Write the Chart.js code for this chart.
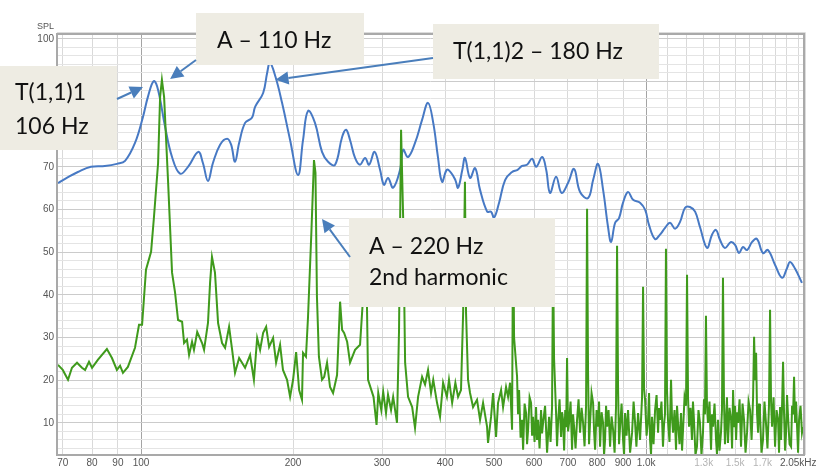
<!DOCTYPE html>
<html>
<head>
<meta charset="utf-8">
<title>SPL spectrum</title>
<script src="https://cdn.jsdelivr.net/npm/chart.js@4.4.1/dist/chart.umd.min.js"></script>
<style>
  html, body { margin: 0; padding: 0; background: #fff; }
  #wrap { width: 816px; height: 466px; }
</style>
</head>
<body>
<div id="wrap"><canvas id="splChart" width="816" height="466"></canvas></div>
<script>
// Body response (blue), Hz / dB
const responseFreq = [68.5, 71.7, 75.0, 79.6, 84.8, 89.6, 93.0, 97.3, 100.9, 103.2,
  106.0, 108.1, 111.6, 115.2, 119.5, 123.9, 129.8, 132.6, 135.7, 138.8,
  143.4, 148.1, 150.8, 153.5, 156.4, 160.7, 165.8, 168.3, 174.5, 177.7,
  180.0, 184.6, 190.2, 197.3, 204.6, 209.3, 214.1, 221.0, 228.2, 234.6,
  242.2, 250.1, 254.7, 259.3, 265.3, 271.4, 277.7, 282.8, 290.0, 297.3,
  302.7, 308.3, 315.6, 325.7, 330.3, 337.8, 348.7, 360.1, 370.0, 378.9,
  387.1, 394.4, 403.2, 411.1, 419.1, 424.3, 432.6, 437.9, 448.1, 458.6,
  469.0, 484.4, 493.1, 499.9, 511.5, 525.7, 542.7, 556.5, 568.0, 581.0,
  594.6, 605.6, 622.6, 634.0, 645.3, 663.3, 680.0, 700.3, 720.0, 739.9,
  767.5, 785.2, 803.2, 821.8, 840.5, 852.3, 868.1, 883.8, 900.0, 920.7,
  942.3, 972.6, 995.6, 1013, 1041, 1065, 1090, 1115, 1141, 1167,
  1194, 1221, 1250, 1278, 1320, 1350, 1375, 1400, 1432, 1472,
  1500, 1527, 1555, 1584, 1621, 1657, 1703, 1742, 1800, 1858,
  1901, 1927, 1972, 2034];
const responseSpl = [66.2, 67.6, 68.8, 70.0, 70.2, 70.7, 71.4, 75.6, 81.7, 86.4,
  90.1, 88.0, 79.4, 72.3, 68.4, 70.0, 73.5, 70.9, 66.7, 70.9,
  75.2, 76.6, 75.2, 71.2, 75.6, 80.3, 81.5, 84.1, 87.3, 92.0,
  94.4, 91.1, 85.0, 76.3, 68.1, 76.3, 83.1, 80.3, 73.5, 71.2,
  70.5, 77.0, 78.7, 76.3, 72.1, 70.5, 72.1, 70.5, 73.5, 69.3,
  65.8, 67.4, 65.1, 69.3, 74.0, 72.3, 75.6, 81.0, 85.0, 80.3,
  72.3, 66.5, 69.3, 68.6, 66.9, 65.1, 69.3, 72.1, 67.4, 69.7,
  64.6, 59.5, 59.5, 58.1, 61.6, 66.9, 68.8, 69.3, 70.2, 70.5,
  71.9, 70.0, 72.3, 69.3, 63.9, 67.7, 63.9, 66.2, 69.5, 64.1,
  62.7, 66.9, 70.7, 64.6, 55.9, 52.4, 56.9, 58.0, 61.6, 64.1,
  62.3, 61.6, 59.9, 56.4, 53.1, 54.1, 55.7, 56.9, 55.5, 57.1,
  60.4, 60.6, 59.5, 55.9, 51.0, 54.1, 55.2, 52.9, 51.0, 52.4,
  51.7, 49.8, 51.2, 50.5, 52.4, 53.1, 49.8, 50.5, 47.0, 44.0,
  46.3, 47.7, 46.1, 42.8];

// Plucked A string (green), Hz / dB
const noteFreq = [68.5, 70.0, 71.7, 73.0, 74.7, 76.4, 77.5, 78.9, 80.0, 82.2,
  85.6, 87.6, 89.6, 90.9, 92.1, 94.2, 97.3, 99.1, 100.5, 102.3,
  104.7, 106.1, 108.1, 109.1, 110.0, 111.1, 113.1, 115.2, 116.8, 118.4,
  120.6, 121.7, 123.3, 124.5, 126.2, 127.3, 129.2, 132.1, 133.3, 135.7,
  137.0, 138.2, 140.1, 142.1, 144.7, 146.7, 149.4, 151.5, 153.5, 156.4,
  160.7, 164.4, 167.3, 169.8, 172.1, 174.5, 176.9, 179.3, 182.6, 185.1,
  188.5, 191.0, 194.6, 197.3, 200.0, 202.8, 205.6, 208.3, 209.3, 212.1,
  214.1, 217.5, 220.0, 221.5, 223.0, 225.0, 228.2, 230.5, 233.5, 236.7,
  240.0, 244.4, 247.8, 250.1, 252.4, 255.9, 259.3, 265.3, 271.4, 275.2,
  277.7, 279.5, 281.5, 288.6, 292.6, 294.9, 299.0, 301.6, 305.5, 308.3,
  312.6, 315.6, 321.2, 324.2, 327.2, 330.3, 333.3, 337.8, 344.2, 348.7,
  353.6, 360.1, 365.0, 370.0, 375.1, 378.9, 385.5, 390.8, 396.3, 403.2,
  407.1, 413.0, 419.1, 424.3, 430.0, 434.2, 437.8, 440.0, 444.0, 448.1,
  454.3, 462.6, 469.0, 475.5, 484.2, 486.4, 493.1, 497.7, 504.5, 509.1,
  516.2, 520.9, 528.0, 532.9, 537.8, 542.7, 545.2, 547.7, 555.2, 557.7,
  560.3, 564.2, 568.1, 570.7, 574.6, 578.5, 581.1, 583.8, 587.8, 591.8,
  594.5, 597.2, 601.3, 605.4, 608.1, 610.9, 615.1, 619.4, 622.2, 625.1,
  630.8, 636.6, 642.4, 646.8, 651.2, 654.2, 657.2, 663.2, 666.2, 669.2,
  673.8, 678.5, 681.6, 684.7, 688.0, 691.5, 694.5, 697.3, 700.5, 703.7,
  708.5, 713.4, 716.6, 719.9, 724.8, 729.8, 734.8, 739.9, 745.0, 750.1,
  755.2, 760.4, 763.9, 767.3, 770.8, 774.4, 779.7, 785.1, 788.7, 792.3,
  797.7, 803.1, 806.8, 810.5, 816.1, 821.7, 825.4, 829.2, 833.0, 836.8,
  842.5, 848.3, 854.1, 860.0, 866.0, 871.8, 875.8, 879.8, 883.8, 887.9,
  894.0, 900.1, 904.2, 908.4, 914.6, 920.8, 929.3, 937.8, 944.3, 950.8,
  956.5, 963.8, 972.6, 981.5, 986.0, 990.5, 995.1, 1001.9, 1008.7, 1013.3,
  1018, 1022.5, 1027, 1034.2, 1041.5, 1048.6, 1055.8, 1060.4, 1065, 1072.3,
  1079.7, 1084.6, 1089.6, 1094.5, 1099.5, 1104.5, 1112.3, 1120.1, 1125.2, 1130.4,
  1138.1, 1145.9, 1151.1, 1156.4, 1164.3, 1172.3, 1177.7, 1183.1, 1191.2, 1199.3,
  1204.8, 1210.3, 1215.9, 1224.0, 1232.2, 1237.8, 1243.5, 1252.0, 1260.6, 1269.3,
  1278, 1286.8, 1295.6, 1301.5, 1307.5, 1313.4, 1319.4, 1325.4, 1334.7, 1344.1,
  1350.2, 1356.4, 1365.7, 1375.1, 1381.3, 1387.6, 1397.0, 1406.4, 1412.8, 1419.3,
  1425.8, 1432.3, 1438.8, 1445.3, 1451.9, 1462.3, 1472.7, 1479.4, 1486.2, 1493.0,
  1499.8, 1506.6, 1513.5, 1520.4, 1530.7, 1541.0, 1551.6, 1562.2, 1572.9, 1583.7,
  1594.8, 1606, 1617.0, 1628.1, 1635.6, 1643.0, 1650.5, 1658.0, 1665.6, 1672.8,
  1680, 1691.6, 1703.2, 1714.8, 1726.5, 1738.4, 1750.4, 1759, 1767.0, 1775.1,
  1787.3, 1799.6, 1811.9, 1824.3, 1832.6, 1841, 1849.4, 1857.9, 1866.4, 1875,
  1883.5, 1892.0, 1900.6, 1909.3, 1922.5, 1935.8, 1944.7, 1953.6, 1962.5, 1971.5,
  1980.4, 1989.4, 1998.5, 2007.7, 2021.1, 2034.5, 2044];
const noteSpl = [23.6, 22.4, 20.1, 22.9, 24.1, 22.9, 22.4, 24.3, 22.9, 24.8,
  27.3, 25.2, 22.4, 23.4, 21.7, 23.1, 27.6, 33.0, 33.0, 45.9,
  50.1, 58.3, 70.9, 86.4, 90.4, 86.4, 66.9, 45.2, 40.5, 34.1,
  33.7, 28.7, 29.5, 25.9, 29.0, 27.1, 31.3, 28.7, 27.1, 33.4,
  42.8, 48.9, 45.2, 33.4, 28.7, 27.6, 32.5, 27.1, 21.7, 25.2,
  22.9, 25.9, 20.1, 29.9, 27.1, 31.1, 32.5, 27.8, 29.9, 24.1,
  28.3, 22.4, 20.1, 16.1, 20.1, 26.6, 17.7, 15.4, 26.4, 25.5,
  34.8, 55.2, 71.6, 68.6, 39.5, 25.5, 20.1, 20.8, 24.1, 18.4,
  17.0, 21.2, 38.4, 31.8, 31.1, 29.0, 24.1, 27.1, 28.3, 39.5,
  52.0, 45.0, 20.1, 16.1, 9.5, 17.0, 13.0, 17.3, 12.3, 16.6,
  13.0, 16.1, 10.0, 31.8, 78.7, 58.3, 24.1, 16.1, 13.7, 8.8,
  16.1, 20.8, 19.0, 22.4, 17.0, 20.1, 14.7, 11.4, 19.4, 16.1,
  20.1, 14.7, 19.4, 16.1, 17.7, 35.8, 66.5, 35.8, 20.1, 17.0,
  13.7, 15.4, 10.7, 14.7, 9.1, 5.3, 11.4, 17.0, 6.7, 14.7,
  17.7, 13.7, 18.4, 16.1, 19.4, 8.4, 58.0, 30.0, 20.8, 12.0,
  17.7, 6.5, 10.7, 3.7, 14.5, 12.3, 5.0, 8.4, 16.0, 14.7,
  7.0, 11.4, 5.5, 13.7, 6.0, 10.7, 4.0, 13.0, 7.5, 10.0,
  14.0, 3.0, 11.4, 5.5, 13.7, 50.0, 25.0, 12.3, 4.5, 10.0,
  15.5, 6.7, 12.5, 10.7, 3.5, 13.0, 9.0, 25.2, 8.0, 10.0,
  15.0, 3.7, 12.0, 9.1, 4.0, 10.7, 15.5, 7.7, 13.5, 10.0,
  4.5, 14.0, 60.2, 22.0, 5.0, 10.0, 17.0, 14.7, 8.0, 3.7,
  13.0, 9.1, 15.0, 4.4, 12.5, 10.0, 2.5, 6.0, 14.0, 9.1,
  13.0, 4.4, 11.5, 8.4, 3.0, 14.0, 51.5, 18.0, 5.0, 9.1,
  14.5, 6.0, 2.5, 12.3, 7.0, 13.0, 3.0, 7.7, 15.0, 10.0,
  4.4, 12.3, 6.0, 16.0, 41.9, 18.0, 15.4, 7.0, 10.7, 17.0,
  6.0, 2.5, 11.4, 5.0, 13.0, 16.5, 7.7, 13.5, 10.7, 15.0,
  4.4, 9.5, 12.0, 50.8, 18.0, 10.7, 5.5, 20.1, 11.0, 7.7,
  13.0, 3.7, 14.0, 10.0, 5.0, 12.3, 3.5, 8.4, 16.0, 14.0,
  44.7, 16.0, 9.1, 13.5, 6.0, 15.0, 10.7, 2.5, 4.4, 13.0,
  10.0, 2.5, 7.7, 15.5, 12.0, 35.1, 14.0, 10.0, 15.0, 3.7,
  12.0, 9.1, 14.5, 6.0, 2.5, 10.7, 3.5, 7.7, 13.0, 44.0,
  15.0, 5.0, 10.0, 16.0, 5.3, 13.5, 10.7, 4.0, 17.7, 9.0,
  14.0, 6.0, 12.5, 10.0, 15.5, 4.4, 14.5, 10.7, 3.0, 7.7,
  15.0, 13.0, 6.0, 16.0, 30.2, 20.0, 26.4, 12.0, 7.7, 14.5,
  12.3, 3.0, 6.0, 15.0, 10.0, 4.0, 14.0, 36.5, 15.0, 9.1,
  16.0, 4.4, 13.0, 10.7, 3.0, 13.7, 6.0, 14.0, 24.3, 12.0,
  3.5, 7.7, 16.5, 11.4, 5.0, 4.4, 14.0, 12.0, 20.8, 10.0,
  15.0, 9.1, 3.0, 10.7, 14.0, 7.7, 9.0];

// Frequency grid and its labels
const freqTicks = [70, 80, 90, 100, 200, 300, 400, 500, 600, 700, 800, 900,
  1000, 1100, 1200, 1300, 1400, 1500, 1600, 1700, 1800, 1900, 2000, 2044];
const freqLabels = { 70: '70', 80: '80', 90: '90', 100: '100', 200: '200', 300: '300',
  400: '400', 500: '500', 600: '600', 700: '700', 800: '800', 900: '900',
  1000: '1.0k', 1300: '1.3k', 1500: '1.5k', 1700: '1.7k', 2000: '2.05kHz' };
const faintLabels = [1300, 1500, 1700];
const splLabels = [10, 20, 30, 40, 50, 60, 70, 80, 90, 100];

// Callouts: box in px, arrow tip at a (Hz, dB) position
const callouts = [
  { box: [0, 66, 117, 84], lines: ['T(1,1)1', '106 Hz'], textX: 15, textY: [93, 127],
    tail: [117, 99], tip: [100.9, 88.7] },
  { box: [196, 13, 168, 52], lines: ['A \u2013 110 Hz'], textX: 217, textY: [41],
    tail: [196, 60], tip: [114.2, 90.6] },
  { box: [433, 24, 226, 55], lines: ['T(1,1)2 \u2013 180 Hz'], textX: 453, textY: [52],
    tail: [433, 58], tip: [184.6, 90.4] },
  { box: [349, 218, 206, 89], lines: ['A \u2013 220 Hz', '2nd harmonic'], textX: 369, textY: [247, 278],
    tail: [350, 257], tip: [228.2, 57.8] }
];

function toPoints(xs, ys) {
  return xs.map((x, i) => ({ x: x, y: ys[i] }));
}

function drawArrow(ctx, x1, y1, x2, y2) {
  const ang = Math.atan2(y2 - y1, x2 - x1);
  const len = 13, half = 6.5;
  const bx = x2 - Math.cos(ang) * len;
  const by = y2 - Math.sin(ang) * len;
  ctx.beginPath();
  ctx.moveTo(x1, y1);
  ctx.lineTo(bx, by);
  ctx.stroke();
  ctx.beginPath();
  ctx.moveTo(x2, y2);
  ctx.lineTo(bx + Math.sin(ang) * half, by - Math.cos(ang) * half);
  ctx.lineTo(bx - Math.sin(ang) * half, by + Math.cos(ang) * half);
  ctx.closePath();
  ctx.fill();
}

// Frame, axis caption and callout boxes on top of the traces
const calloutPlugin = {
  id: 'callouts',
  afterDatasetsDraw(chart) {
    const ctx = chart.ctx;
    const a = chart.chartArea;
    const xs = chart.scales.x;
    const ys = chart.scales.y;
    ctx.save();

    ctx.strokeStyle = '#a9a9a9';
    ctx.lineWidth = 2;
    ctx.strokeRect(a.left - 1, a.top - 1, a.right - a.left + 2, a.bottom - a.top + 2);
    ctx.strokeStyle = '#dcdcdc';
    ctx.lineWidth = 1;
    ctx.beginPath();
    ctx.moveTo(a.left - 1, a.top - 2.5);
    ctx.lineTo(a.right + 2.5, a.top - 2.5);
    ctx.lineTo(a.right + 2.5, a.bottom + 1);
    ctx.stroke();

    ctx.fillStyle = '#555';
    ctx.font = '9px "Liberation Sans", Arial, sans-serif';
    ctx.textAlign = 'right';
    ctx.textBaseline = 'middle';
    ctx.fillText('SPL', 54, 27);

    callouts.forEach(c => {
      ctx.fillStyle = '#eeece3';
      ctx.fillRect(c.box[0], c.box[1], c.box[2], c.box[3]);
      ctx.fillStyle = '#111';
      ctx.font = '23px Lato, "Open Sans", sans-serif';
      ctx.textAlign = 'left';
      ctx.textBaseline = 'middle';
      c.lines.forEach((t, i) => ctx.fillText(t, c.textX, c.textY[i]));
    });

    ctx.strokeStyle = '#4a7ebb';
    ctx.fillStyle = '#4a7ebb';
    ctx.lineWidth = 2;
    callouts.forEach(c => {
      drawArrow(ctx, c.tail[0], c.tail[1], xs.getPixelForValue(c.tip[0]), ys.getPixelForValue(c.tip[1]));
    });
    ctx.restore();
  }
};

const chart = new Chart(document.getElementById('splChart'), {
  type: 'line',
  data: {
    datasets: [
      {
        label: 'A string',
        data: toPoints(noteFreq, noteSpl),
        borderColor: '#3f9a1c',
        borderWidth: 2,
        pointRadius: 0,
        tension: 0
      },
      {
        label: 'Response',
        data: toPoints(responseFreq, responseSpl),
        borderColor: '#4779c4',
        borderWidth: 2,
        pointRadius: 0,
        tension: 0.4
      }
    ]
  },
  options: {
    responsive: false,
    animation: false,
    devicePixelRatio: 1,
    layout: { padding: { left: 0, top: 35, right: 13, bottom: 0 } },
    plugins: {
      legend: { display: false },
      tooltip: { enabled: false }
    },
    scales: {
      x: {
        type: 'logarithmic',
        min: 68.5,
        max: 2044,
        afterBuildTicks: scale => { scale.ticks = freqTicks.map(v => ({ value: v })); },
        afterFit: scale => { scale.height = 12; },
        border: { display: false },
        grid: {
          drawTicks: false,
          color: c => (c.tick && (c.tick.value === 100 || c.tick.value === 1000)) ? '#a4a4a4' : '#d9d9d9'
        },
        ticks: {
          autoSkip: false,
          maxRotation: 0,
          padding: 3,
          font: { family: '"Liberation Sans", Arial, sans-serif', size: 10 },
          color: c => (c.tick && faintLabels.includes(c.tick.value)) ? '#b4b4b4' : '#555',
          callback: value => freqLabels[value] || ''
        }
      },
      y: {
        min: 2.7,
        max: 100.9,
        afterBuildTicks: scale => {
          const t = [];
          for (let v = 4; v <= 100; v += 2) t.push({ value: v });
          scale.ticks = t;
        },
        afterFit: scale => { scale.width = 58; },
        border: { display: false },
        grid: {
          drawTicks: false,
          color: c => (c.tick && c.tick.value % 10 === 0) ? '#cbcbcb' : '#e4e4e4'
        },
        ticks: {
          autoSkip: false,
          padding: 4,
          font: { family: '"Liberation Sans", Arial, sans-serif', size: 10 },
          color: '#555',
          callback: value => splLabels.includes(value) ? String(value) : ''
        }
      }
    }
  },
  plugins: [calloutPlugin]
});
</script>
</body>
</html>
